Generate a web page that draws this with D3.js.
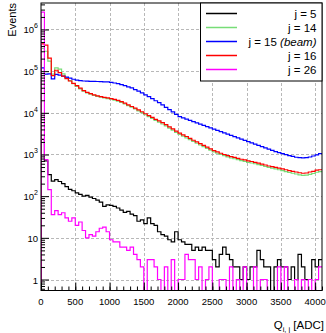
<!DOCTYPE html>
<html><head><meta charset="utf-8">
<script src="https://cdn.jsdelivr.net/npm/d3@7"></script>
<style>
body{margin:0;background:#fff;}
svg{display:block;font-family:"Liberation Sans",Arial,sans-serif;}
</style></head>
<body><svg id="c" width="326" height="333"></svg>
<script>
// ---- data: 82 bins of 50 ADC each, from 0 to 4100 ----
const binWidth = 50;
const seriesNames = ["j = 5", "j = 14", "j = 15", "j = 16", "j = 26"];
const seriesColors = ["#000000", "#77dd77", "#0000ff", "#ff0000", "#ff00ff"];
const j5 = [2300,700,330,230,250,225,200,170,145,135,
  120,110,100,105,95,88,80,72,57,62,
  60,57,52,46,41,43,37,34,25,27,
  22,30,22,20,14,12,11,9,8,14,
  9,8,7,7,5,6,5,6,5,5,
  3,2,4,6,4,3,2,2,1,2,
  1,2,2,5,3,2,2,0,2,3,
  2,2,1,2,1,4,2,1,1,3,
  2,3];
const j14 = [350000,300000,175000,85000,120000,112000,86000,70000,59000,50000,
  43000,37500,33000,30000,28000,26200,24800,23800,22800,22000,
  21200,20200,19000,17800,16300,14900,13600,12400,11200,10100,
  9000,8100,7300,6600,6000,5400,4850,4300,3850,3400,
  3050,2750,2500,2280,2050,1860,1690,1540,1400,1270,
  1160,1070,1000,935,875,825,790,750,715,685,
  650,625,600,570,545,515,490,470,450,430,
  410,390,370,355,340,325,315,320,335,350,
  375,390];
const j15 = [120000,85000,86000,65000,84000,80000,76000,72000,68000,64000,
  61000,59000,58000,57500,57000,57000,56500,56000,55500,55000,
  54000,52000,50000,47500,45000,42000,39500,36000,33000,30000,
  27000,24500,22000,19500,17500,15500,13500,12000,10500,9200,
  8100,7560,7050,6580,6140,5730,5350,4990,4660,4350,
  4050,3780,3530,3300,3080,2870,2680,2500,2330,2180,
  2030,1900,1770,1650,1540,1440,1340,1250,1170,1110,
  1050,990,940,900,860,840,830,840,870,920,
  980,1050];
const j16 = [450000,420000,205000,78000,105000,92000,76000,66000,58000,51000,
  45000,39000,34000,31000,29000,27000,25500,24500,23500,22800,
  22000,21000,19800,18500,17000,15500,14200,13000,11800,10600,
  9500,8600,7800,7000,6400,5800,5200,4600,4100,3650,
  3250,2950,2700,2450,2200,2000,1820,1650,1500,1360,
  1240,1150,1070,1000,940,890,850,810,770,740,
  700,680,650,620,590,560,530,510,490,470,
  450,430,410,395,380,365,355,360,380,395,
  420,430];
const j26 = [2600000,750,143,36,45,36,40,30,25,30,
  20,24,15,10,12,11,14,17,18,14,
  9,8,8,6,6,5,6,4,3,2,
  0,3,3,2,1,0,2,0,3,0,
  1,1,4,3,3,1,2,0,1,2,
  0,0,1,1,0,2,0,1,0,2,
  0,0,2,0,1,1,0,0,0,2,
  0,2,0,0,1,0,1,0,1,0,
  1,2];
const seriesValues = [j5, j14, j15, j16, j26];
const xTicks = [0,500,1000,1500,2000,2500,3000,3500,4000];
const yTicks = [1,10,100,1000,10000,100000,1000000];

// ---- layout ----
const L = 41, R = 322, T = 3, B = 290.5;
const xMax = 4100, yMin = 0.545, yMax = 4.32e6;
const xs = d3.scaleLinear().domain([0, xMax]).range([L, R]);
const ys = d3.scaleLog().domain([yMin, yMax]).range([B, T]);

const svg = d3.select("#c");
svg.append("rect").attr("width",326).attr("height",333).attr("fill","#fff");

// grid
const grid = svg.append("g").attr("stroke","#b8b8b8").attr("stroke-width",1).attr("stroke-dasharray","3,2");
xTicks.filter(v=>v>0).forEach(v=>{
  const x = Math.round(xs(v))+0.5;
  grid.append("line").attr("x1",x).attr("x2",x).attr("y1",T).attr("y2",B);
});
yTicks.forEach(v=>{
  const y = Math.round(ys(v))+0.5;
  grid.append("line").attr("x1",L).attr("x2",R).attr("y1",y).attr("y2",y);
});

// histograms
svg.append("defs").append("clipPath").attr("id","clip")
  .append("rect").attr("x",L).attr("y",T).attr("width",R-L).attr("height",B-T);
const line = d3.line().x(d=>d[0]).y(d=>d[1]).curve(d3.curveStepAfter);
const hg = svg.append("g").attr("clip-path","url(#clip)");
seriesValues.forEach((vals,k)=>{
  const pts = vals.map((v,i)=>[xs(i*binWidth), ys(Math.max(v, yMin))]);
  pts.push([xs(vals.length*binWidth), ys(Math.max(vals[vals.length-1], yMin))]);
  pts.unshift([xs(0), B]);
  hg.append("path").attr("d", line(pts)).attr("fill","none")
    .attr("stroke", seriesColors[k]).attr("stroke-width",1.2);
});

// axes (ticks pointing inward)
const xMinor = d3.range(0, xMax+1, 100);
svg.append("g").attr("transform",`translate(0,${B})`)
  .call(d3.axisBottom(xs).tickValues(xMinor).tickSize(-4).tickFormat(""))
  .call(g=>{g.select(".domain").remove();});
svg.append("g").attr("transform",`translate(0,${B})`)
  .call(d3.axisBottom(xs).tickValues(xTicks).tickSize(-8).tickFormat(""))
  .call(g=>{g.select(".domain").remove();});
const yMinor = [];
for (let e=-1;e<=6;e++) for (let m=2;m<=9;m++){ const v=m*Math.pow(10,e); if(v>=yMin && v<=yMax) yMinor.push(v); }
svg.append("g").attr("transform",`translate(${L},0)`)
  .call(d3.axisLeft(ys).tickValues(yMinor).tickSize(-4).tickFormat(""))
  .call(g=>{g.select(".domain").remove();});
svg.append("g").attr("transform",`translate(${L},0)`)
  .call(d3.axisLeft(ys).tickValues(yTicks).tickSize(-8).tickFormat(""))
  .call(g=>{g.select(".domain").remove();});

// frame
svg.append("rect").attr("x",L).attr("y",T).attr("width",R-L).attr("height",B-T)
  .attr("fill","none").attr("stroke","#000").attr("stroke-width",1);

// tick labels
const lab = svg.append("g").attr("font-size","9.5px").attr("fill","#000");
xTicks.forEach(v=>{
  lab.append("text").attr("x",xs(v)).attr("y",305).attr("text-anchor","middle").text(v);
});
yTicks.forEach(v=>{
  const e = Math.round(Math.log10(v));
  const t = lab.append("text").attr("x",38).attr("y",ys(v)+4).attr("text-anchor","end");
  if (e===0) t.text("1");
  else if (e===1) t.text("10");
  else { t.append("tspan").text("10"); t.append("tspan").attr("dy",-5).attr("font-size","7px").text(e); }
});

// axis titles
svg.append("text").attr("transform","translate(15.5,3) rotate(-90)")
  .attr("text-anchor","end").attr("font-size","11px").text("Events");
const xt = svg.append("text").attr("x",324).attr("y",329).attr("text-anchor","end").attr("font-size","11.5px");
xt.append("tspan").text("Q");
xt.append("tspan").attr("dy",2.5).attr("font-size","7.5px").text("i, j");
xt.append("tspan").attr("dy",-2.5).text(" [ADC]");

// legend
const lg = svg.append("g");
lg.append("rect").attr("x",200.5).attr("y",T).attr("width",R-200.5).attr("height",78)
  .attr("fill","#fff").attr("stroke","#000").attr("stroke-width",1);
const rowsY = [13.5,27.5,41.5,55.5,69.5];
seriesNames.forEach((n,k)=>{
  lg.append("line").attr("x1",206).attr("x2",237).attr("y1",rowsY[k]).attr("y2",rowsY[k])
    .attr("stroke",seriesColors[k]).attr("stroke-width",1.5);
  const t = lg.append("text").attr("x",316.5).attr("y",rowsY[k]+4).attr("text-anchor","end").attr("font-size","11.5px");
  t.append("tspan").text(n);
  if (k===2) t.append("tspan").attr("font-style","italic").text(" (beam)");
});
</script></body></html>
